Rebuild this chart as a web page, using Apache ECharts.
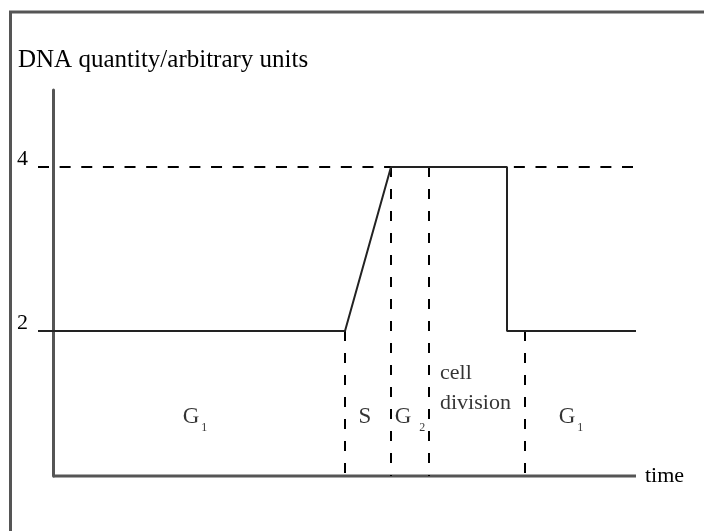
<!DOCTYPE html>
<html>
<head>
<meta charset="utf-8">
<script src="https://cdn.jsdelivr.net/npm/echarts@6/dist/echarts.min.js"></script>
<style>
  html, body { margin: 0; padding: 0; background: #fff; }
  #chart { width: 704px; height: 531px; }
</style>
</head>
<body>
<div id="chart"></div>
<script>
// time in arbitrary units (0 = y axis), DNA in arbitrary units
var dnaTime = [-15, 292, 338, 454, 454, 583];
var dnaQty = [2, 2, 4, 4, 2, 2];
var yTicks = [2, 4];
var yMin = 0.232, yMax = 4.939;
var timeEnd = 583;
// dashed guide for level 4
var guide4 = [[-15, 4], [580, 4]];
// vertical dashed phase borders: [time, top value]
var phaseBorders = [[292, 2], [338, 4], [376, 4], [472, 2]];
// phase labels
var phaseNames = ['{g|G}{s|1}', '{g|S}', '{g|G}{s2|2}', 'cell\ndivision', '{g|G}{s|1}'];
var phaseX = [142, 312, 357, 387, 518];
var phaseY = [0.945, 0.945, 0.945, 1.305, 0.945];

var ink = '#000';
var serif = 'Liberation Serif';

var series = [];
// x axis line drawn from y axis to end
series.push({
  type: 'line', data: [[0, yMin], [timeEnd, yMin]], symbol: 'none', clip: false, silent: true,
  lineStyle: { color: '#555', width: 3 }
});
series.push({
  type: 'line', data: guide4, symbol: 'none', clip: false, silent: true,
  lineStyle: { color: '#000', width: 2, type: [11, 10.63] }
});
phaseBorders.forEach(function (b) {
  series.push({
    type: 'line', data: [[b[0], b[1]], [b[0], yMin]], symbol: 'none', clip: false, silent: true,
    lineStyle: { color: '#000', width: 2, type: [10, 12] }
  });
});
series.push({
  type: 'line', data: dnaTime.map(function (t, i) { return [t, dnaQty[i]]; }),
  symbol: 'none', clip: false, silent: true,
  lineStyle: { color: '#222', width: 2 }
});
series.push({
  type: 'scatter', symbolSize: 0, silent: true,
  data: phaseNames.map(function (n, i) {
    var left = n.indexOf('cell') === 0;
    return {
      value: [phaseX[i], phaseY[i]],
      label: {
        show: true, position: 'inside', formatter: n,
        align: left ? 'left' : 'center', verticalAlign: 'middle',
        fontFamily: serif, fontSize: 22, color: ink, lineHeight: left ? 30 : 24,
        rich: {
          g: { fontFamily: serif, fontSize: 23, color: ink, lineHeight: 24, verticalAlign: 'top' },
          s: { fontFamily: serif, fontSize: 12, color: ink, lineHeight: 12, verticalAlign: 'top', padding: [16, 0, 0, 2] },
          s2: { fontFamily: serif, fontSize: 12, color: ink, lineHeight: 12, verticalAlign: 'top', padding: [16, 0, 0, 8] }
        }
      }
    };
  })
});

var chart = echarts.init(document.getElementById('chart'));
chart.setOption({
  animation: false,
  title: {
    text: 'DNA quantity/arbitrary units', left: 18, top: 48, padding: 0,
    textStyle: { fontFamily: serif, fontSize: 25, fontWeight: 'normal', color: ink }
  },
  grid: { left: 38, right: 68, top: 90, bottom: 55 },
  xAxis: {
    type: 'value', min: -15, max: timeEnd,
    name: 'time', nameLocation: 'end', nameGap: 9,
    nameTextStyle: { fontFamily: serif, fontSize: 22, color: ink },
    axisLine: { show: false, onZero: false }, axisTick: { show: false },
    axisLabel: { show: false }, splitLine: { show: false }
  },
  yAxis: {
    type: 'value', min: yMin, max: yMax,
    axisLine: { show: true, onZero: true, lineStyle: { color: '#555', width: 3 } },
    axisTick: { show: false }, splitLine: { show: false },
    axisLabel: {
      customValues: yTicks, margin: 10, fontFamily: serif, fontSize: 22, color: ink,
      verticalAlign: 'bottom', lineHeight: 16
    }
  },
  graphic: [
    { type: 'line', shape: { x1: 9, y1: 12, x2: 704, y2: 12 }, style: { stroke: '#555', lineWidth: 3 } },
    { type: 'line', shape: { x1: 10.5, y1: 11, x2: 10.5, y2: 531 }, style: { stroke: '#555', lineWidth: 3 } }
  ],
  series: series
});
</script>
</body>
</html>
